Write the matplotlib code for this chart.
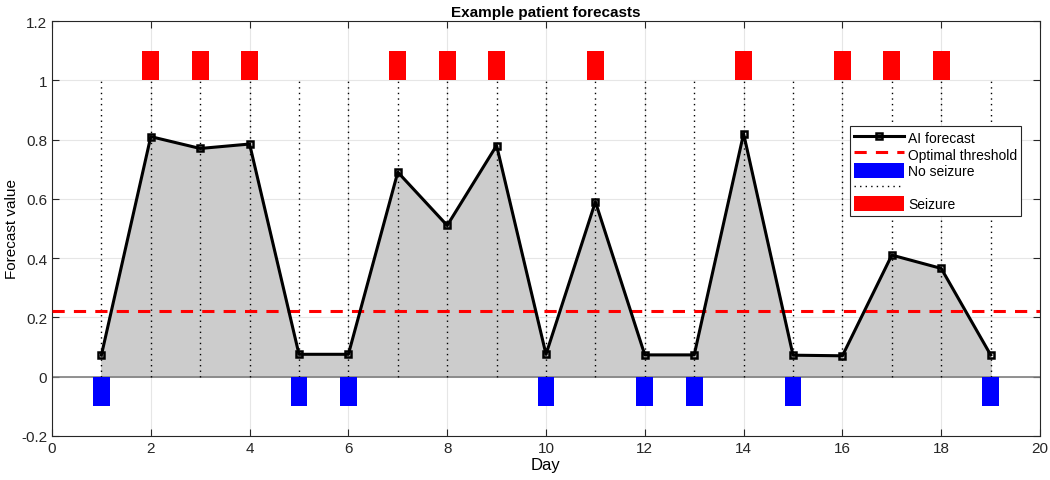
import numpy as np
import matplotlib.pyplot as plt
from matplotlib.patches import Patch
from matplotlib.lines import Line2D

plt.rcParams['font.family'] = ['Liberation Sans', 'DejaVu Sans']

# Data
days = [1, 2, 3, 4, 5, 6, 7, 8, 9, 10, 11, 12, 13, 14, 15, 16, 17, 18, 19]
forecast = [0.072, 0.81, 0.77, 0.785, 0.075, 0.075, 0.69, 0.51, 0.78, 0.075,
            0.59, 0.073, 0.073, 0.82, 0.072, 0.07, 0.41, 0.365, 0.073]
threshold = 0.22
seizure_days = [2, 3, 4, 7, 8, 9, 11, 14, 16, 17, 18]
no_seizure_days = [1, 5, 6, 10, 12, 13, 15, 19]

fig = plt.figure(figsize=(10.5, 4.81), dpi=100)
ax = fig.add_axes([0.0495, 0.092, 0.941, 0.862])

# shaded area under forecast
ax.fill_between(days, 0, forecast, color='#cccccc', zorder=1)
ax.axhline(0, color='#808080', lw=1.2, zorder=1.5)

# dotted day markers
ax.vlines(days, 0, 1.0, colors='black', linestyles=(0, (1, 3)), lw=1.0, zorder=2)

# seizure / no seizure bars
ax.bar(seizure_days, 0.1, bottom=1.0, width=0.34, color='red', zorder=2)
ax.bar(no_seizure_days, 0.1, bottom=-0.1, width=0.34, color='blue', zorder=2)

ax.axhline(threshold, color='red', ls=(0, (4, 3)), lw=2.2, zorder=3)
ax.plot(days, forecast, color='black', lw=2.2, marker='s', ms=5,
        mfc='none', mec='black', mew=1.8, zorder=4)

ax.set_xlim(0, 20)
ax.set_ylim(-0.2, 1.2)
ax.set_xticks(np.arange(0, 21, 2))
ax.set_yticks(np.arange(-0.2, 1.21, 0.2))
ax.set_yticklabels(['-0.2', '0', '0.2', '0.4', '0.6', '0.8', '1', '1.2'])
ax.grid(True, color='#e6e6e6', lw=0.8, zorder=0)
ax.set_axisbelow(True)
ax.tick_params(direction='in', length=5, labelsize=11, colors='#262626',
               top=True, right=True)
for s in ax.spines.values():
    s.set_color('#262626')
    s.set_linewidth(0.8)

ax.set_title('Example patient forecasts', fontsize=11, fontweight='bold', pad=4)
ax.set_xlabel('Day', fontsize=12, labelpad=2)
ax.set_ylabel('Forecast value', fontsize=11)
ax.yaxis.set_label_coords(-0.033, 0.5)

handles = [
    Line2D([0], [0], color='black', lw=2.2, marker='s', ms=5, mfc='none', mew=1.8),
    Line2D([0], [0], color='red', lw=2.2, ls=(0, (4, 3))),
    Patch(facecolor='blue'),
    Line2D([0], [0], color='black', lw=1.0, ls=(0, (1, 3))),
    Patch(facecolor='red'),
]
labels = ['AI forecast', 'Optimal threshold', 'No seizure', ' ', 'Seizure']
leg = ax.legend(handles, labels, loc='upper right', bbox_to_anchor=(0.988, 0.765),
                fontsize=10, frameon=True, fancybox=False, edgecolor='#262626',
                framealpha=1, handlelength=3.6, handleheight=1.3, handletextpad=0.3,
                labelspacing=0.1, borderpad=0.3)
leg.get_frame().set_linewidth(0.8)

fig.savefig('out.png', dpi=100)
